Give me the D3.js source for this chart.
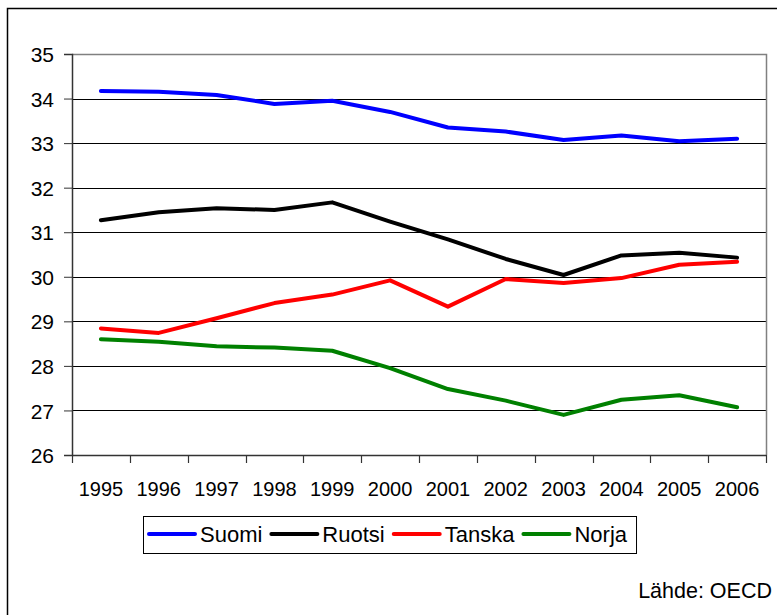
<!DOCTYPE html>
<html>
<head>
<meta charset="utf-8">
<script src="https://cdn.jsdelivr.net/npm/d3@7"></script>
<style>
  body { margin: 0; background: #fff; }
  svg { display: block; font-family: "Liberation Sans", Arial, sans-serif; }
</style>
</head>
<body>
<svg id="chart" width="777" height="615"></svg>
<script>
var years = ["1995", "1996", "1997", "1998", "1999", "2000", "2001", "2002", "2003", "2004", "2005", "2006"]
var yTicks = [26, 27, 28, 29, 30, 31, 32, 33, 34, 35]

var suomi  = [34.17, 34.15, 34.08, 33.88, 33.95, 33.70, 33.35, 33.26, 33.07, 33.17, 33.04, 33.10]
var ruotsi = [31.27, 31.45, 31.54, 31.50, 31.67, 31.24, 30.84, 30.40, 30.04, 30.48, 30.54, 30.43]
var tanska = [28.84, 28.74, 29.07, 29.41, 29.60, 29.92, 29.33, 29.95, 29.86, 29.97, 30.27, 30.34]
var norja  = [28.60, 28.54, 28.44, 28.41, 28.34, 27.95, 27.48, 27.22, 26.90, 27.24, 27.34, 27.07]

var seriesNames = ["Suomi", "Ruotsi", "Tanska", "Norja"]
var seriesValues = [suomi, ruotsi, tanska, norja]
var colors = ["#0000ff", "#000000", "#ff0000", "#008000"]

var plotLeft = 72, plotRight = 766, plotTop = 54, plotBottom = 455

var svg = d3.select("#chart")

var x = d3.scaleBand().domain(years).range([plotLeft, plotRight])
var y = d3.scaleLinear().domain([26, 35]).range([plotBottom, plotTop])

// outer frame (runs off the picture on the right and bottom)
svg.append("rect")
    .attr("x", 7.5).attr("y", 8.5)
    .attr("width", 820).attr("height", 700)
    .style("fill", "none").style("stroke", "#000").style("stroke-width", 1.5)

// grid lines
svg.append("g")
    .selectAll("line")
    .data(yTicks.filter(d => d > 26 && d < 35))
    .enter()
    .append("line")
    .attr("x1", plotLeft).attr("x2", plotRight)
    .attr("y1", d => Math.round(y(d)) + 0.5)
    .attr("y2", d => Math.round(y(d)) + 0.5)
    .style("stroke", "#000").style("stroke-width", 1)

// plot border top / right
svg.append("path")
    .attr("d", "M" + plotLeft + "," + (plotTop + 0.5) + "H" + (plotRight + 0.5) + "V" + plotBottom)
    .style("fill", "none").style("stroke", "#808080").style("stroke-width", 1.5)

// y axis
var yAxis = svg.append("g")
    .attr("transform", "translate(" + plotLeft + ",0)")
    .call(d3.axisLeft(y).tickValues(yTicks).tickSize(8).tickPadding(10).tickFormat(d3.format("d")))
yAxis.select(".domain").style("stroke", "#333").style("stroke-width", 1.5)
yAxis.selectAll(".tick line").style("stroke", "#333")
yAxis.selectAll("text").style("font-size", "21px").style("fill", "#000").attr("dy", "0.36em")

// x axis: labels centred in bands, ticks on band edges
var xAxis = svg.append("g")
    .attr("transform", "translate(0," + plotBottom + ")")
    .call(d3.axisBottom(x).tickSize(0).tickPadding(27))
xAxis.select(".domain").remove()
xAxis.selectAll("text").style("font-size", "20px").style("fill", "#000")

svg.append("line")
    .attr("x1", plotLeft).attr("x2", plotRight + 0.5)
    .attr("y1", plotBottom + 0.5).attr("y2", plotBottom + 0.5)
    .style("stroke", "#333").style("stroke-width", 1.5)

svg.append("g")
    .selectAll("line")
    .data(years.map(d => x(d)).concat([plotRight]))
    .enter()
    .append("line")
    .attr("x1", d => Math.round(d) + 0.5).attr("x2", d => Math.round(d) + 0.5)
    .attr("y1", plotBottom).attr("y2", plotBottom + 8)
    .style("stroke", "#333").style("stroke-width", 1.2)

// series lines
var line = d3.line()
    .x((d, i) => x(years[i]) + x.bandwidth() / 2)
    .y(d => y(d))

svg.append("g")
    .selectAll("path")
    .data(seriesValues)
    .enter()
    .append("path")
    .attr("d", d => line(d))
    .style("fill", "none")
    .style("stroke", (d, i) => colors[i])
    .style("stroke-width", 4)
    .style("stroke-linejoin", "round")
    .style("stroke-linecap", "round")

// legend
var legend = svg.append("g")
var lx = 149, ly = 534
seriesNames.forEach(function(name, i) {
    legend.append("line")
        .attr("x1", lx).attr("x2", lx + 46)
        .attr("y1", ly).attr("y2", ly)
        .style("stroke", colors[i]).style("stroke-width", 4).style("stroke-linecap", "round")
    var t = legend.append("text")
        .attr("x", lx + 51).attr("y", ly)
        .attr("dy", "0.36em")
        .style("font-size", "22px")
        .text(name)
    lx = lx + 51 + t.node().getComputedTextLength() + 9
})
legend.insert("rect", ":first-child")
    .attr("x", 143.5).attr("y", 516.5)
    .attr("width", lx - 143).attr("height", 37)
    .style("fill", "#fff").style("stroke", "#000").style("stroke-width", 1)

svg.append("text")
    .attr("x", 772).attr("y", 598)
    .attr("text-anchor", "end")
    .style("font-size", "21.5px")
    .text("Lähde: OECD")
</script>
</body>
</html>
